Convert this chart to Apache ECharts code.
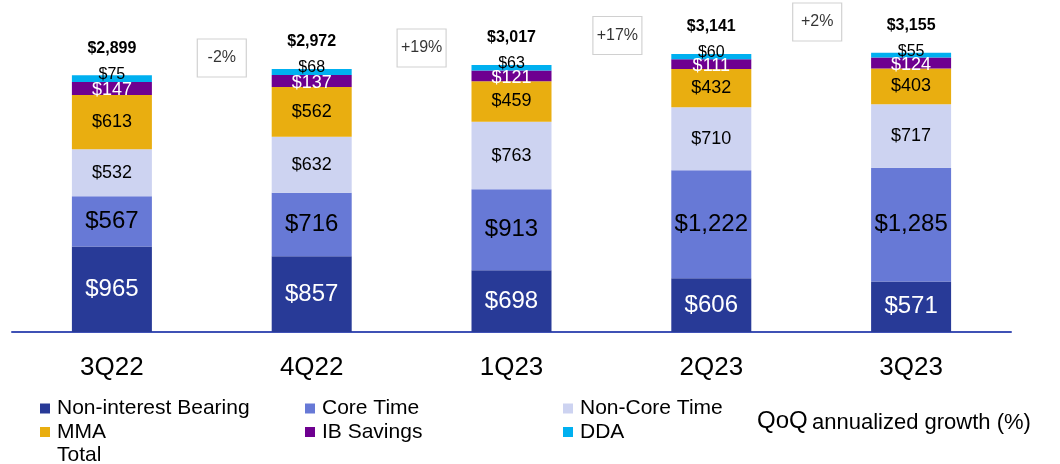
<!DOCTYPE html>
<html>
<head>
<meta charset="utf-8">
<script src="https://cdn.jsdelivr.net/npm/echarts@6/dist/echarts.min.js"></script>
<style>
  html, body { margin: 0; padding: 0; background: #fff; }
  #deposits { width: 1060px; height: 464px; }
</style>
</head>
<body>
<div id="deposits"></div>
<script>
// values ($M)
const quarters = ['3Q22', '4Q22', '1Q23', '2Q23', '3Q23']
const nonInterest = [965, 857, 698, 606, 571]
const coreTime = [567, 716, 913, 1222, 1285]
const nonCoreTime = [532, 632, 763, 710, 717]
const mma = [613, 562, 459, 432, 403]
const ibSavings = [147, 137, 121, 111, 124]
const dda = [75, 68, 63, 60, 55]
const growth = ['-2%', '+19%', '+17%', '+2%']

const totals = quarters.map((q, i) =>
  nonInterest[i] + coreTime[i] + nonCoreTime[i] + mma[i] + ibSavings[i] + dda[i])

const font = '"Liberation Sans", Arial, sans-serif'
const money = v => '$' + Number(v).toLocaleString('en-US')

function seg (name, data, color, size, textColor, labelExtra) {
  return {
    name: name,
    type: 'bar',
    stack: 'dep',
    barWidth: 80,
    data: data,
    itemStyle: { color: color },
    label: Object.assign({
      show: true,
      position: 'inside',
      fontFamily: font,
      fontSize: size,
      color: textColor,
      formatter: p => money(p.value)
    }, labelExtra || {})
  }
}

const chart = echarts.init(document.getElementById('deposits'))

// growth boxes sit between the bars, placed on a hidden value axis
const boxPlace = [[1.05, 3095], [2.05, 3208], [3.03, 3349], [4.03, 3502]]

const legendText = { fontFamily: font, fontSize: 21, color: '#000', lineHeight: 20, padding: [0, 0, 0, 2] }
const legendBase = {
  orient: 'vertical', top: 398, height: 90, padding: 0, itemWidth: 10, itemHeight: 10, itemGap: 2.5,
  icon: 'rect', selectedMode: false, textStyle: legendText
}

chart.setOption({
  animation: false,
  grid: { left: 12, right: 49, top: 0, bottom: 132 },
  xAxis: [
    {
      type: 'category',
      data: quarters,
      axisLine: { lineStyle: { color: '#3F51B5', width: 2 } },
      axisTick: { show: false },
      axisLabel: { fontFamily: font, fontSize: 26, color: '#000', margin: 23 }
    },
    { type: 'value', min: 0, max: 5, show: false }
  ],
  yAxis: { type: 'value', min: 0, max: 3750, show: false, splitLine: { show: false } },
  legend: [
    Object.assign({ left: 40, data: ['Non-interest Bearing', 'MMA', 'Total'] }, legendBase),
    Object.assign({ left: 305, data: ['Core Time', 'IB Savings'] }, legendBase),
    Object.assign({ left: 563, data: ['Non-Core Time', 'DDA'] }, legendBase)
  ],
  graphic: [
    {
      type: 'text',
      left: 757,
      top: 409,
      style: { text: 'QoQ', fontSize: 24, fontFamily: font, fill: '#000' }
    },
    {
      type: 'text',
      left: 812,
      top: 412,
      style: { text: 'annualized growth (%)', fontSize: 22, fontFamily: font, fill: '#000' }
    }
  ],
  series: [
    seg('Non-interest Bearing', nonInterest, '#283A97', 24, '#fff'),
    seg('Core Time', coreTime, '#6779D6', 24, '#000'),
    seg('Non-Core Time', nonCoreTime, '#CDD3F1', 18, '#000'),
    seg('MMA', mma, '#E9AE10', 18, '#000'),
    seg('IB Savings', ibSavings, '#6E0090', 18, '#fff', { offset: [0, 2] }),
    seg('DDA', dda, '#00B0F0', 16, '#000', { position: 'top', distance: 0, offset: [0, 7] }),
    {
      name: 'Total',
      type: 'bar',
      barWidth: 80,
      barGap: '-100%',
      silent: true,
      data: totals,
      itemStyle: { color: 'rgba(0,0,0,0)' },
      label: {
        show: true,
        position: 'top',
        distance: 19,
        fontFamily: font,
        fontSize: 16,
        fontWeight: 'bold',
        color: '#000',
        formatter: p => money(p.value)
      }
    },
    {
      name: 'growth',
      type: 'scatter',
      xAxisIndex: 1,
      symbol: 'rect',
      symbolSize: [49, 38],
      silent: true,
      data: boxPlace.map((p, i) => ({ value: p, label: { formatter: growth[i] } })),
      itemStyle: { color: '#fff', borderColor: '#C4C4C4', borderWidth: 1 },
      label: { show: true, position: 'inside', fontFamily: font, fontSize: 16, color: '#000' }
    }
  ]
})
</script>
</body>
</html>
